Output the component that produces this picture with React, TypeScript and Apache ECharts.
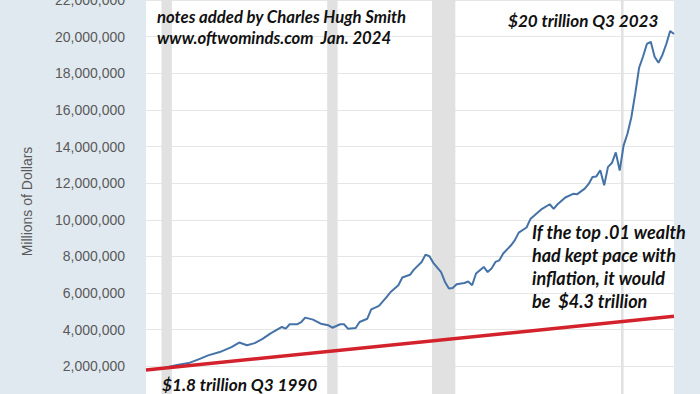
import React, { useEffect, useRef } from "react";
import * as echarts from "echarts";

// Top 0.1% net worth, millions of dollars (quarterly)
const dates: string[] = [
  "1989-07-01", "1990-07-01", "1991-07-01", "1992-04-01", "1993-01-01", "1993-07-01",
  "1994-04-01", "1995-01-01", "1995-07-01", "1996-01-01", "1996-07-01", "1997-01-01",
  "1997-07-01", "1998-04-01", "1998-07-01", "1998-10-01", "1999-04-01", "1999-07-01",
  "1999-10-01", "2000-04-01", "2000-10-01", "2001-04-01", "2001-07-01", "2002-01-01",
  "2002-04-01", "2002-07-01", "2003-01-01", "2003-04-01", "2003-10-01", "2004-01-01",
  "2004-07-01", "2005-01-01", "2005-04-01", "2005-10-01", "2006-01-01", "2006-07-01",
  "2006-10-01", "2007-04-01", "2007-07-01", "2007-10-01", "2008-01-01", "2008-07-01",
  "2008-10-01", "2009-01-01", "2009-04-01", "2009-07-01", "2010-01-01", "2010-04-01",
  "2010-07-01", "2010-10-01", "2011-04-01", "2011-07-01", "2011-10-01", "2012-01-01",
  "2012-04-01", "2012-07-01", "2013-01-01", "2013-04-01", "2013-07-01", "2014-01-01",
  "2014-04-01", "2015-01-01", "2015-07-01", "2015-10-01", "2016-01-01", "2016-07-01",
  "2017-01-01", "2017-04-01", "2017-10-01", "2018-01-01", "2018-04-01", "2018-07-01",
  "2018-10-01", "2019-01-01", "2019-04-01", "2019-07-01", "2019-10-01", "2020-01-01",
  "2020-04-01", "2020-07-01", "2020-10-01", "2021-01-01", "2021-04-01", "2021-07-01",
  "2021-10-01", "2022-01-01", "2022-04-01", "2022-07-01", "2022-10-01", "2023-01-01",
  "2023-04-01", "2023-07-01",
];
const netWorth: number[] = [
  1800000, 1880000, 2080000, 2180000, 2420000, 2600000,
  2780000, 3050000, 3300000, 3150000, 3270000, 3500000,
  3790000, 4150000, 4060000, 4300000, 4300000, 4420000,
  4660000, 4550000, 4330000, 4240000, 4110000, 4300000,
  4300000, 4060000, 4090000, 4420000, 4600000, 5110000,
  5300000, 5790000, 6060000, 6430000, 6850000, 7000000,
  7280000, 7700000, 8100000, 8010000, 7650000, 7150000,
  6610000, 6250000, 6280000, 6480000, 6550000, 6630000,
  6430000, 7070000, 7430000, 7150000, 7340000, 7700000,
  7790000, 8160000, 8610000, 8890000, 9300000, 9580000,
  10040000, 10600000, 10850000, 10600000, 10850000, 11220000,
  11420000, 11390000, 11700000, 11960000, 12340000, 12370000,
  12710000, 11890000, 12890000, 13100000, 13680000, 12690000,
  14050000, 14700000, 15600000, 16900000, 18300000, 18900000,
  19600000, 19720000, 18900000, 18570000, 19000000, 19600000,
  20310000, 20140000,
];

// Inflation-adjusted path drawn by the annotator (straight line)
const inflationDates: string[] = ["1989-07-01", "2023-07-01"];
const inflationValues: number[] = [1800000, 4730000];

// Recession periods (shaded)
const recessions: [string, string][] = [
  ["1990-07-01", "1991-03-01"],
  ["2001-03-01", "2001-11-01"],
  ["2007-12-01", "2009-06-01"],
  ["2020-02-01", "2020-04-01"],
];

const yTicks = { min: 0, max: 22000000, interval: 2000000 };
const yAxisName = "Millions of Dollars";

const noteLines: string[] = [
  "notes added by Charles Hugh Smith",
  "www.oftwominds.com  Jan. 2024",
];
const endNote = "$20 trillion Q3 2023";
const startNote = "$1.8 trillion Q3 1990";
const paceNote: string[] = [
  "If the top .01 wealth",
  "had kept pace with",
  "inflation, it would",
  "be  $4.3 trillion",
];

const noteFont = {
  fontFamily: "Lato, 'Open Sans', sans-serif",
  fontStyle: "italic",
  fontWeight: "bold",
  fill: "#111",
};

export default function App() {
  const ref = useRef<HTMLDivElement>(null);
  useEffect(() => {
    if (!ref.current) return;
    const chart = echarts.init(ref.current, undefined, { renderer: "svg" });
    const fmt = (v: number) =>
      v.toString().replace(/\B(?=(\d{3})+(?!\d))/g, ",");
    chart.setOption({
      animation: false,
      backgroundColor: "#e1e9f0",
      grid: {
        left: 146,
        right: 26,
        top: 0,
        bottom: 0,
        show: true,
        backgroundColor: "#ffffff",
        borderWidth: 0,
        containLabel: false,
        outerBoundsMode: "none",
      },
      xAxis: {
        type: "time",
        min: "1989-07-01",
        max: "2023-07-01",
        show: false,
        splitLine: { show: false },
      },
      yAxis: {
        type: "value",
        min: yTicks.min,
        max: yTicks.max,
        interval: yTicks.interval,
        name: yAxisName,
        nameLocation: "middle",
        nameGap: 112,
        nameRotate: 90,
        nameTextStyle: {
          fontFamily: "'Liberation Sans', Arial, sans-serif",
          fontSize: 14,
          color: "#595959",
        },
        axisLine: { show: false },
        axisTick: { show: false },
        axisLabel: {
          formatter: fmt,
          margin: 21,
          showMinLabel: false,
          fontFamily: "'Liberation Sans', Arial, sans-serif",
          fontSize: 14,
          color: "#595959",
        },
        splitLine: { lineStyle: { color: "#e6e6e6", width: 1 } },
      },
      series: [
        {
          type: "line",
          name: "Top 0.1%",
          data: dates.map((d, i) => [d, netWorth[i]]),
          showSymbol: false,
          lineStyle: { color: "#4572a7", width: 2 },
          z: 3,
          markArea: {
            silent: true,
            itemStyle: { color: "#e1e1e1" },
            data: recessions.map(([a, b]) => [{ xAxis: a }, { xAxis: b }]),
            z: 1,
          },
        },
        {
          type: "line",
          name: "Inflation",
          data: inflationDates.map((d, i) => [d, inflationValues[i]]),
          showSymbol: false,
          lineStyle: { color: "#d3222c", width: 3.5 },
          z: 4,
        },
      ],
      graphic: [
        ...noteLines.map((t, i) => ({
          type: "text",
          x: 157,
          y: 17 + i * 21,
          z: 100,
          style: { ...noteFont, text: t, fontSize: 16.7, textVerticalAlign: "middle" },
        })),
        {
          type: "text",
          x: 508,
          y: 20,
          z: 100,
          style: { ...noteFont, text: endNote, fontSize: 17.1, textVerticalAlign: "middle" },
        },
        {
          type: "text",
          x: 162,
          y: 384,
          z: 100,
          style: { ...noteFont, text: startNote, fontSize: 17.2, textVerticalAlign: "middle" },
        },
        ...paceNote.map((t, i) => ({
          type: "text",
          x: 532,
          y: 232 + i * 23,
          z: 100,
          style: { ...noteFont, text: t, fontSize: 18, textVerticalAlign: "middle" },
        })),
      ],
    });
    return () => chart.dispose();
  }, []);
  return (
    <div
      ref={ref}
      style={{ position: "fixed", left: 0, top: 0, width: 700, height: 403 }}
    />
  );
}
